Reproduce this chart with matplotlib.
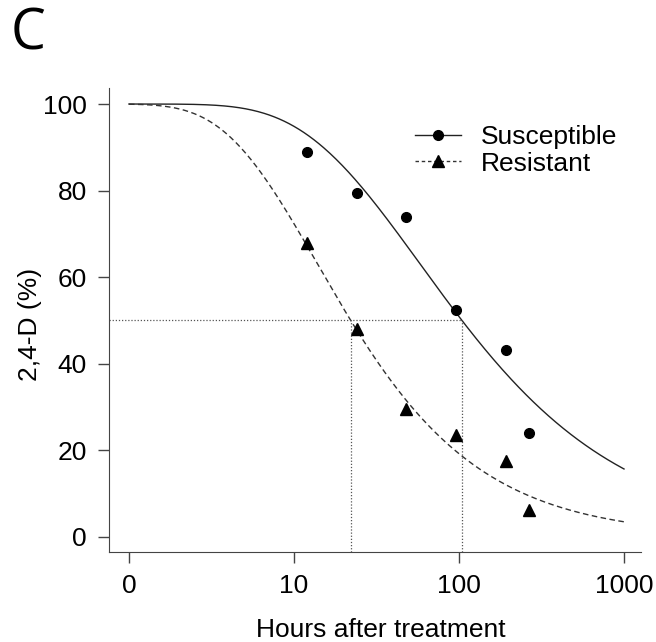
import numpy as np
import matplotlib
matplotlib.use("Agg")
import matplotlib.pyplot as plt
from matplotlib.lines import Line2D

plt.rcParams['font.family'] = ['Liberation Sans', 'DejaVu Sans']

# observed data (hours after treatment, % 2,4-D remaining)
hours = [12, 24, 48, 96, 192, 264]
susceptible = [88.9, 79.4, 74.0, 52.4, 43.1, 23.9]
resistant = [67.8, 48.0, 29.5, 23.5, 17.5, 6.3]

# fitted Weibull (W2) curve parameters: slope b, location e
b_sus, e_sus = -0.62, 57.7
b_res, e_res = -0.78, 13.8
ed50_sus = 104.0
ed50_res = 22.1

xtick_vals = [1, 10, 100, 1000]   # "0" sits at the position of 1 on the log axis
xtick_labels = ['0', '10', '100', '1000']
ytick_vals = [0, 20, 40, 60, 80, 100]


def w2(x, b, e):
    return 100 * (1 - np.exp(-(x / e) ** b))


fig = plt.figure(figsize=(6.56, 6.42), dpi=100)
ax = fig.add_axes([109 / 656, 1 - 552 / 642, 532 / 656, 464 / 642])

xs = np.logspace(0, 3, 400)
ax.plot(xs, w2(xs, b_sus, e_sus), color='#222222', lw=1.0)
ax.plot(xs, w2(xs, b_res, e_res), color='#333333', lw=1.0, ls=(0, (4, 2.5)))

ax.plot(hours, susceptible, 'o', color='black', ms=7)
ax.plot(hours, resistant, '^', color='black', ms=8)

# ED50 guide lines
ylo = -3.5
dot = (0, (1, 1.5))
ax.plot([10 ** -0.121, ed50_sus], [50, 50], color='#555555', lw=0.9, ls=dot)
ax.plot([ed50_res, ed50_res], [ylo, 50], color='#555555', lw=0.9, ls=dot)
ax.plot([ed50_sus, ed50_sus], [ylo, 50], color='#555555', lw=0.9, ls=dot)

ax.set_xscale('log')
ax.set_xlim(10 ** -0.121, 10 ** 3.103)
ax.set_ylim(ylo, 103.7)
ax.set_xticks(xtick_vals)
ax.set_xticklabels(xtick_labels)
ax.xaxis.set_minor_locator(matplotlib.ticker.NullLocator())
ax.set_yticks(ytick_vals)
ax.tick_params(length=8, width=1, labelsize=19, pad=8, color='#444444')
for s in ['top', 'right']:
    ax.spines[s].set_visible(False)
for s in ['left', 'bottom']:
    ax.spines[s].set_color('#444444')

ax.set_xlabel('Hours after treatment', fontsize=19)
ax.xaxis.set_label_coords(0.51, -0.143)
ax.set_ylabel('2,4-D (%)', fontsize=19)
ax.yaxis.set_label_coords(-0.126, 0.49)

handles = [
    Line2D([], [], color='#222222', lw=1.0, marker='o', ms=7, mfc='black', mec='black'),
    Line2D([], [], color='#333333', lw=1.0, ls=(0, (2.5, 2)), marker='^', ms=8, mfc='black', mec='black'),
]
fig.legend(handles, ['Susceptible', 'Resistant'], loc='upper left',
           bbox_to_anchor=(415 / 656, 1 - 125 / 642), frameon=False,
           fontsize=19, handlelength=1.75, handletextpad=0.75,
           labelspacing=0.1, borderpad=0, borderaxespad=0)

fig.text(11 / 656, 1 - 49 / 642, 'C', fontsize=40, family=['Open Sans', 'DejaVu Sans'])

fig.savefig('out.png', dpi=100)
